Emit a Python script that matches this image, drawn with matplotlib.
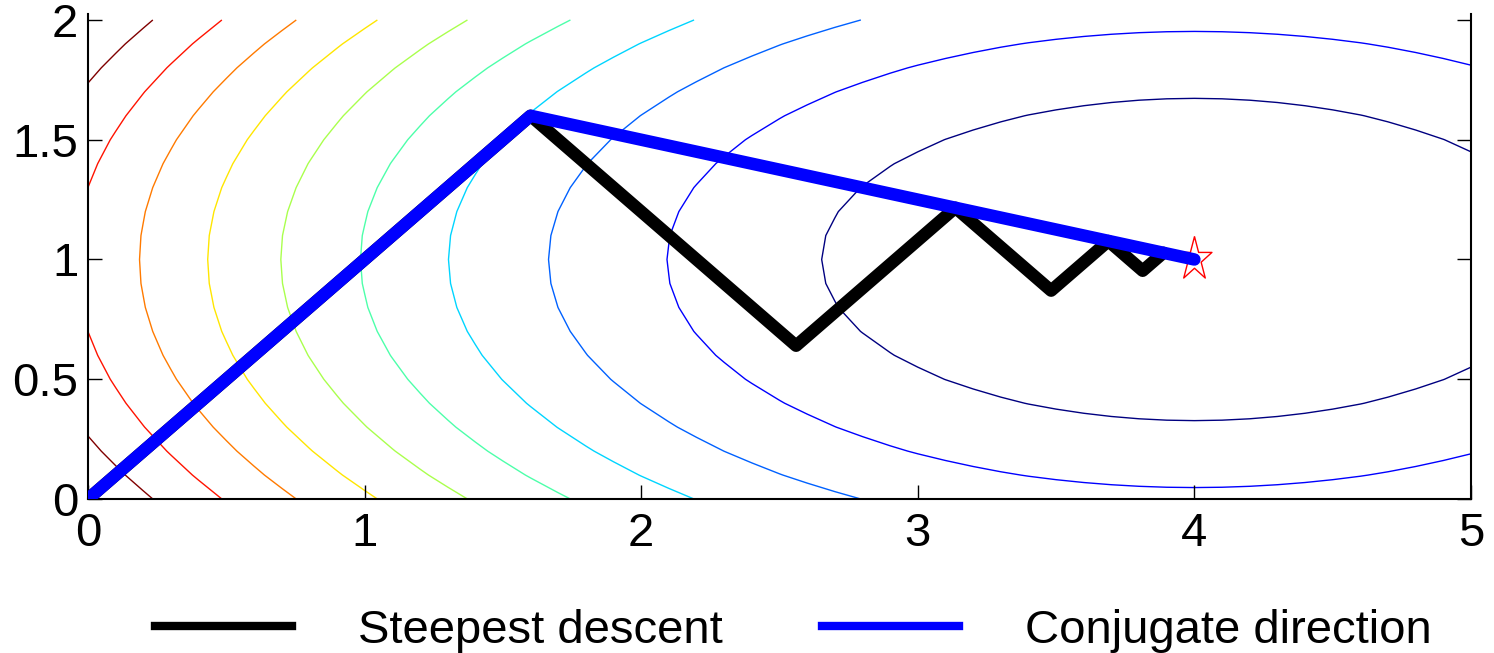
import matplotlib
matplotlib.use('Agg')
import matplotlib.pyplot as plt
import numpy as np
from matplotlib.lines import Line2D
from matplotlib.path import Path

plt.rcParams['font.family'] = ['Liberation Sans', 'DejaVu Sans']

# quadratic bowl f = a*(x-x0)^2 + b*(y-y0)^2, minimum marked by the star
x0, y0 = 4.0, 1.0
a, b = 1.0, 4.0
grid_step = 0.1
n_levels = 10

# iterates
sd_x = [0, 1.6, 2.56, 3.136, 3.482, 3.689, 3.813, 3.888]
sd_y = [0, 1.6, 0.64, 1.216, 0.870, 1.077, 0.953, 1.028]
cg_x = [0, 1.6, 4.0]
cg_y = [0, 1.6, 1.0]

xticks = [0, 1, 2, 3, 4, 5]
yticks = [0, 0.5, 1, 1.5, 2]
ytick_labels = ['0', '0.5', '1', '1.5', '2']

# coarse grid like the original, gives the slightly kinked contour lines
gx = np.arange(0, 5 + grid_step / 2, grid_step)
gy = np.arange(0, 2 + grid_step / 2, grid_step)
X, Y = np.meshgrid(gx, gy)
Z = a * (X - x0) ** 2 + b * (Y - y0) ** 2
levels = np.linspace(Z.min(), Z.max(), n_levels + 2)[1:-1]

fig = plt.figure(figsize=(14.94, 6.53), dpi=100)
ax = fig.add_axes([0.0589, 0.2358, 0.9257, 0.7428])

ax.contour(X, Y, Z, levels=levels, cmap='jet', linewidths=1.0, zorder=1)

# star marker, a bit taller than wide as in the original
star = Path.unit_regular_star(5, 0.381966)
star_verts = star.vertices * np.array([1.0, 1.25])
ax.plot([x0], [y0], marker=star_verts, ms=33, mfc='none', mec='red',
        mew=1.0, linestyle='none', zorder=2)

ax.plot(sd_x, sd_y, color='black', lw=9, solid_capstyle='round',
        solid_joinstyle='round', zorder=3)
ax.plot(cg_x, cg_y, color='blue', lw=9, solid_capstyle='round',
        solid_joinstyle='round', zorder=4)

ax.set_xlim(0, 5)
ax.set_ylim(0, 2.025)
ax.set_xticks(xticks)
ax.set_yticks(yticks)
ax.set_yticklabels(ytick_labels)
ax.spines['top'].set_visible(False)
for s in ['left', 'right', 'bottom']:
    ax.spines[s].set_linewidth(1.5)
ax.tick_params(direction='in', length=10, width=1, right=True, top=False,
               labelsize=34)
ax.tick_params(axis='x', pad=9)
ax.tick_params(axis='y', pad=7)

handles = [Line2D([], [], color='black', lw=6),
           Line2D([], [], color='blue', lw=6)]
fig.legend(handles, ['Steepest descent', 'Conjugate direction'], ncol=2,
           loc='center', bbox_to_anchor=(0.531, 0.034), frameon=False,
           fontsize=34, handlelength=2.9, handletextpad=1.4,
           columnspacing=2.1)

fig.savefig('out.png', dpi=100)
